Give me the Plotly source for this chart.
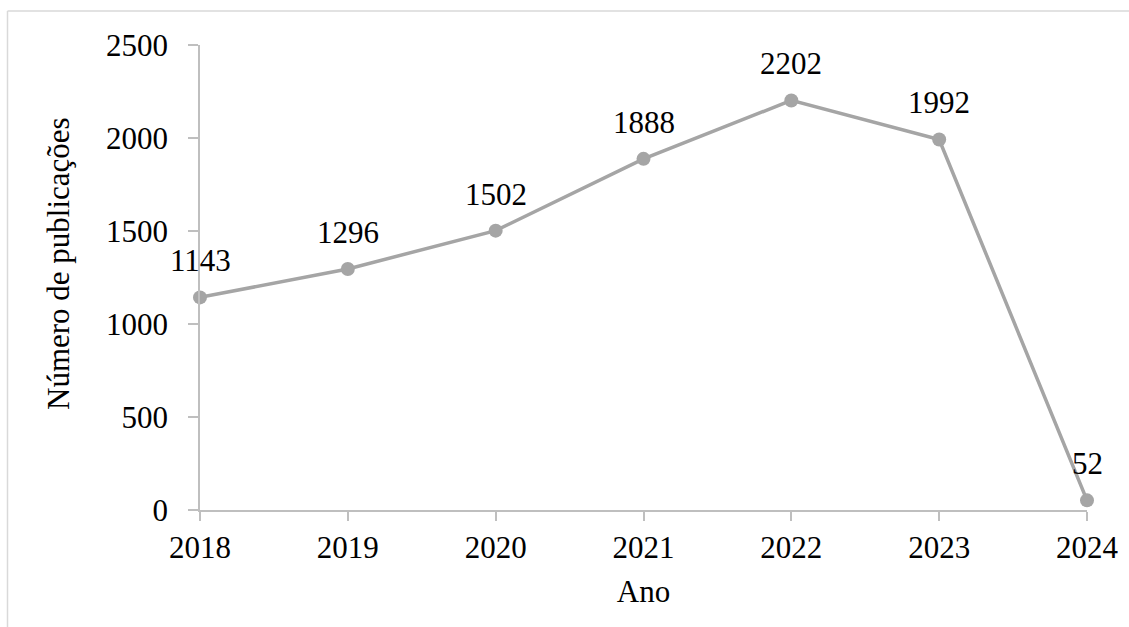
import plotly.graph_objects as go

years = [2018, 2019, 2020, 2021, 2022, 2023, 2024]
publicacoes = [1143, 1296, 1502, 1888, 2202, 1992, 52]
y_ticks = [0, 500, 1000, 1500, 2000, 2500]

FONT = "Liberation Serif, Times New Roman, serif"
GRAY = "#A5A5A5"
AXIS = "#BFBFBF"

fig = go.Figure()
fig.add_trace(go.Scatter(
    x=years, y=publicacoes,
    mode="lines+markers",
    line=dict(color=GRAY, width=3.5),
    marker=dict(color=GRAY, size=14),
    cliponaxis=False,
    hoverinfo="skip",
))

# data labels above each point
for xv, yv in zip(years, publicacoes):
    fig.add_annotation(
        x=xv, y=yv, xref="x", yref="y",
        text=str(yv), showarrow=False,
        xanchor="center", yanchor="bottom", yshift=17,
        font=dict(family=FONT, size=31, color="black"),
    )

W, H = 1129, 627
L, R, T, B = 200, 42, 45, 117
pw, ph = W - L - R, H - T - B

# y-axis title (placed slightly above plot centre, as in the original)
fig.add_annotation(
    x=(58 - L) / pw, y=(H - B - 264) / ph, xref="paper", yref="paper",
    text="Número de publicações", textangle=-90, showarrow=False,
    xanchor="center", yanchor="middle",
    font=dict(family=FONT, size=31, color="black"),
)

fig.update_layout(
    width=W, height=H,
    margin=dict(l=L, r=R, t=T, b=B, autoexpand=False),
    paper_bgcolor="white", plot_bgcolor="white",
    showlegend=False,
    font=dict(family=FONT, size=31, color="black"),
    xaxis=dict(
        range=[years[0], years[-1]],
        tickmode="array", tickvals=years, ticktext=[str(y) for y in years],
        showgrid=False, zeroline=False,
        showline=True, linecolor=AXIS, linewidth=1.5,
        ticks="outside", ticklen=9, tickcolor=AXIS, tickwidth=1.5,
        tickfont=dict(family=FONT, size=31, color="black"),
        title=dict(text="Ano", font=dict(family=FONT, size=31, color="black"), standoff=16),
    ),
    yaxis=dict(
        range=[0, 2500],
        tickmode="array", tickvals=y_ticks, ticktext=[str(v) for v in y_ticks],
        showgrid=False, zeroline=False,
        showline=True, linecolor=AXIS, linewidth=1.5,
        ticks="outside", ticklen=10, tickcolor=AXIS, tickwidth=1.5,
        tickfont=dict(family=FONT, size=31, color="black"),
        ticklabelstandoff=14,
    ),
)

# chart-area border (top and left visible in the crop)
bx = (7.5 - L) / pw
by_top = (H - B - 11) / ph
by_bot = (H - B - 650) / ph
fig.add_shape(type="line", xref="paper", yref="paper", x0=bx, x1=1.2, y0=by_top, y1=by_top,
              line=dict(color="#D9D9D9", width=1.5))
fig.add_shape(type="line", xref="paper", yref="paper", x0=bx, x1=bx, y0=by_top, y1=by_bot,
              line=dict(color="#D9D9D9", width=1.5))

fig.write_html("out.html")
